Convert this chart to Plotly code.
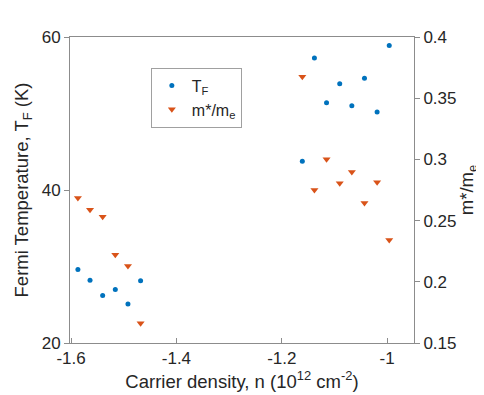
import plotly.graph_objects as go

# carrier density (1e12 cm^-2)
n_low = [-1.587, -1.564, -1.540, -1.516, -1.492, -1.468]
n_high = [-1.161, -1.138, -1.115, -1.090, -1.067, -1.043, -1.019, -0.996]

# Fermi temperature (K)
tf_low = [29.6, 28.2, 26.2, 27.0, 25.1, 28.15]
tf_high = [43.75, 57.25, 51.4, 53.9, 51.0, 54.6, 50.2, 58.9]

# effective mass ratio m*/m_e
mr_low = [0.2685, 0.2589, 0.2532, 0.2222, 0.2129, 0.1661]
mr_high = [0.3676, 0.275, 0.3001, 0.2805, 0.2897, 0.2644, 0.2813, 0.2342]

x_ticks = [-1.6, -1.4, -1.2, -1.0]
x_ticktext = ["-1.6", "-1.4", "-1.2", "-1"]

BLUE = "#0072BD"
ORANGE = "#D95319"
AXIS = "#8c8c8c"
TXT = "#262626"
FONT = "Liberation Sans, Arial, sans-serif"

fig = go.Figure()

fig.add_trace(
    go.Scatter(
        x=n_low + n_high,
        y=tf_low + tf_high,
        mode="markers",
        marker=dict(size=5, color=BLUE),
        name="T<sub>F</sub>",
    )
)
fig.add_trace(
    go.Scatter(
        x=n_low + n_high,
        y=mr_low + mr_high,
        mode="markers",
        marker=dict(size=7, color=ORANGE, symbol="triangle-down"),
        name="m*/m<sub>e</sub>",
        yaxis="y2",
    )
)

fig.update_layout(
    width=484,
    height=395,
    margin=dict(l=62, r=78, t=29, b=60),
    paper_bgcolor="white",
    plot_bgcolor="white",
    font=dict(family=FONT, size=17, color=TXT),
    showlegend=True,
    legend=dict(
        x=0.235,
        y=0.9,
        xanchor="left",
        yanchor="top",
        bgcolor="white",
        bordercolor="#a0a0a0",
        borderwidth=1,
        font=dict(size=16, color=TXT),
        itemsizing="trace",
        itemwidth=30,
    ),
    xaxis=dict(
        range=[-1.602, -0.949],
        tickvals=x_ticks,
        ticktext=x_ticktext,
        ticks="inside",
        ticklen=5,
        tickcolor=AXIS,
        showline=True,
        linecolor=AXIS,
        mirror=True,
        showgrid=False,
        zeroline=False,
        title=dict(text="Carrier density, n (10<sup>12</sup> cm<sup>-2</sup>)", font=dict(size=18.5), standoff=6),
    ),
    yaxis=dict(
        range=[20, 60],
        tickvals=[20, 40, 60],
        ticks="outside",
        ticklen=5,
        tickcolor=AXIS,
        showline=True,
        linecolor=AXIS,
        showgrid=False,
        zeroline=False,
        title=dict(text="Fermi Temperature, T<sub>F</sub> (K)", font=dict(size=18.5), standoff=8),
    ),
    yaxis2=dict(
        range=[0.15, 0.4],
        tickvals=[0.15, 0.2, 0.25, 0.3, 0.35, 0.4],
        ticktext=["0.15", "0.2", "0.25", "0.3", "0.35", "0.4"],
        overlaying="y",
        side="right",
        ticks="outside",
        ticklen=5,
        tickcolor=AXIS,
        showline=True,
        linecolor=AXIS,
        showgrid=False,
        zeroline=False,
        title=dict(text="m*/m<sub>e</sub>", font=dict(size=18.5), standoff=1),
    ),
)

fig.write_html("out.html")
